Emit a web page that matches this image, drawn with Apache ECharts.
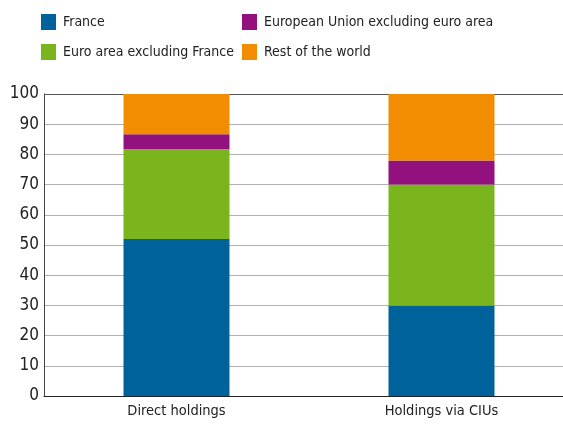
<!DOCTYPE html>
<html><head><meta charset="utf-8">
<script src="https://cdn.jsdelivr.net/npm/echarts@6/dist/echarts.min.js"></script>
<style>html,body{margin:0;padding:0;background:#fff}#c{width:563px;height:424px}</style>
</head><body><div id="c"></div>
<script>
const categories = ["Direct holdings", "Holdings via CIUs"];
const seriesNames = ["France", "Euro area excluding France", "European Union excluding euro area", "Rest of the world"];
const france = [52, 30];
const euroArea = [29.8, 40];
const euOutside = [4.9, 8];
const restWorld = [13.3, 22];
const yTicks = [0, 10, 20, 30, 40, 50, 60, 70, 80, 90, 100];
const colors = ["#00629b", "#7ab51d", "#92117e", "#f28c00"];
const values = [france, euroArea, euOutside, restWorld];
const font = "'DejaVu Sans Condensed'";
const gridColors = yTicks.map((t, i) => i === yTicks.length - 1 ? '#555' : '#b0b0b0');
const chart = echarts.init(document.getElementById('c'));
chart.setOption({
  animation: false,
  color: colors,
  legend: [
    {left: 41, top: 14, padding: 0, orient: 'vertical', itemWidth: 15, itemHeight: 16, itemGap: 14, icon: 'rect',
     data: [seriesNames[0], seriesNames[1]], textStyle: {fontFamily: font, fontSize: 14, color: '#222', padding: [0,0,0,2]}},
    {left: 242, top: 14, padding: 0, orient: 'vertical', itemWidth: 15, itemHeight: 16, itemGap: 14, icon: 'rect',
     data: [seriesNames[2], seriesNames[3]], textStyle: {fontFamily: font, fontSize: 14, color: '#222', padding: [0,0,0,2]}}
  ],
  grid: {left: 44, width: 530, top: 94, bottom: 28, containLabel: false, outerBoundsMode: 'none'},
  xAxis: {type: 'category', data: categories,
    axisLine: {lineStyle: {color: '#222', width: 1}}, axisTick: {show: false},
    axisLabel: {fontFamily: font, fontSize: 14.5, color: '#222', margin: 8}},
  yAxis: {type: 'value', min: yTicks[0], max: yTicks[yTicks.length-1], interval: 10,
    axisLine: {show: true, lineStyle: {color: '#444', width: 1}}, axisTick: {show: false},
    splitLine: {lineStyle: {color: gridColors, width: 1}},
    axisLabel: {fontFamily: font, fontSize: 17, color: '#222', margin: 5}},
  series: seriesNames.map((n, i) => ({
    name: n, type: 'bar', stack: 'total', barWidth: '40%', data: values[i],
    itemStyle: {color: colors[i]}
  }))
});
</script></body></html>
